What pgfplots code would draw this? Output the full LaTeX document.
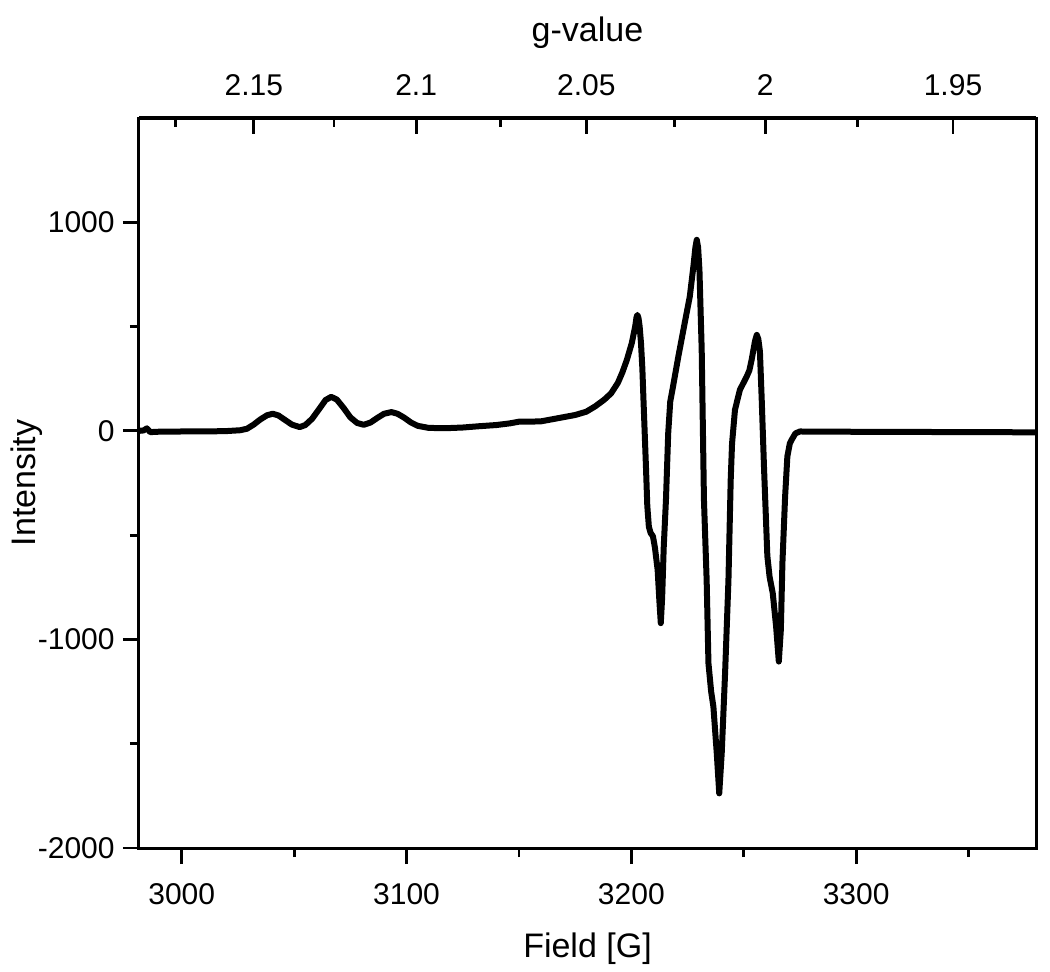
\documentclass[border=0pt]{standalone}
\usepackage{fontspec}
\setmainfont{Liberation Sans}
\usepackage{pgfplots}
\pgfplotsset{compat=1.18}
\pgfplotstableread{
B I
2981 0
2983 2
2984.5 12
2986 -6
2990 -4
3000 -3
3010 -3
3020 -1
3026 3
3029 10
3032 30
3035 55
3038 75
3040.5 82
3043 74
3046 52
3049 30
3052.5 18
3055 28
3058 58
3061.5 110
3064 148
3066.5 163
3069 150
3072 110
3075 65
3078 38
3081 29
3084 40
3087 62
3090 82
3093.3 90
3096 82
3099 63
3102 40
3105 24
3110 14
3118 13
3125 16
3132 22
3140 28
3146 36
3150 44
3155 44
3160 46
3165 56
3170 66
3175 76
3180 92
3184 118
3188 150
3191 180
3194 230
3196 280
3198 340
3200.2 421
3201.7 500
3202.3 545
3202.7 556
3203.2 540
3203.7 500
3204.3 420
3204.9 300
3205.4 149
3206.5 -171
3207.1 -360
3207.8 -460
3208.6 -490
3209.6 -505
3210.5 -560
3211.7 -667
3212.5 -820
3213.1 -922
3213.7 -800
3214.4 -560
3215.4 -331
3216.4 -11
3217.3 140
3218.5 210
3220.9 356
3224 532
3226 644
3227.6 788
3228.5 880
3229.1 916
3229.7 880
3230.3 770
3231.3 388
3232.3 -331
3233.5 -715
3234.3 -1114
3235.5 -1250
3236.5 -1322
3238 -1546
3239.1 -1738
3240.2 -1546
3241.7 -1162
3243.2 -715
3244.2 -235
3244.8 -60
3246.1 101
3248.3 197
3251.3 260
3252.5 290
3253.5 340
3255 430
3255.8 460
3256.5 440
3257.2 380
3258 149
3259 -171
3259.8 -400
3260.5 -600
3261.5 -700
3262.9 -778
3264.4 -938
3265.6 -1106
3266.5 -954
3267.2 -635
3268.4 -315
3269.4 -123
3270.5 -60
3271.3 -43
3273 -12
3275 -3
3290 -4
3320 -5
3350 -6
3380 -7
}\spectrum
\begin{document}
\begin{tikzpicture}
\useasboundingbox (0,0) rectangle (525pt,485.5pt);
\begin{axis}[
  at={(69.5pt,61.5pt)}, anchor=south west,
  width=448.5pt, height=365pt, scale only axis,
  xmin=2981, xmax=3380, ymin=-2000, ymax=1500,
  xtick={3000,3100,3200,3300}, xticklabels={3000,3100,3200,3300},
  minor xtick={3050,3150,3250,3350},
  ytick={-2000,-1000,0,1000}, yticklabels={-2000,-1000,0,1000},
  minor ytick={-1500,-500,500},
  xtick pos=left, ytick pos=left,
  tick align=outside,
  major tick length=8pt, minor tick length=4.5pt,
  every tick/.style={black, line width=1.4pt},
  axis line style={line width=1.5pt},
  tick label style={font=\fontsize{15}{18}\selectfont, inner sep=0pt},
  xticklabel shift=9.8pt,
  yticklabel shift=4pt,
  xlabel={Field [G]}, ylabel={Intensity},
  label style={font=\fontsize{17}{20}\selectfont, inner sep=0pt},
  xlabel style={at={(axis description cs:0.5,-0.1151)}, anchor=north},
  ylabel style={at={(axis description cs:-0.1255,0.5)}, anchor=center},
  clip=false,
]
\addplot[black, line width=3pt, line join=round] table[x=B, y=I] {\spectrum};
\end{axis}
\begin{axis}[
  at={(69.5pt,61.5pt)}, anchor=south west,
  width=448.5pt, height=365pt, scale only axis,
  xmin=2981, xmax=3380, ymin=-2000, ymax=1500,
  axis x line*=top, hide y axis,
  xtick pos=right, xticklabel pos=right,
  xtick={3032.09,3104.29,3180.00,3259.50,3343.08},
  xticklabels={2.15,2.1,2.05,2,1.95},
  minor xtick={2997.24,3067.76,3141.69,3219.26,3300.76},
  tick align=inside,
  major tick length=8pt, minor tick length=4.5pt,
  every tick/.style={black, line width=1.4pt},
  axis line style={line width=1.5pt},
  tick label style={font=\fontsize{15}{18}\selectfont, inner sep=0pt},
  xticklabel shift=10.8pt,
  xlabel={g-value},
  label style={font=\fontsize{17}{20}\selectfont, inner sep=0pt},
  xlabel style={at={(axis description cs:0.5,1.1049)}, anchor=base},
]
\end{axis}
\end{tikzpicture}
\end{document}
